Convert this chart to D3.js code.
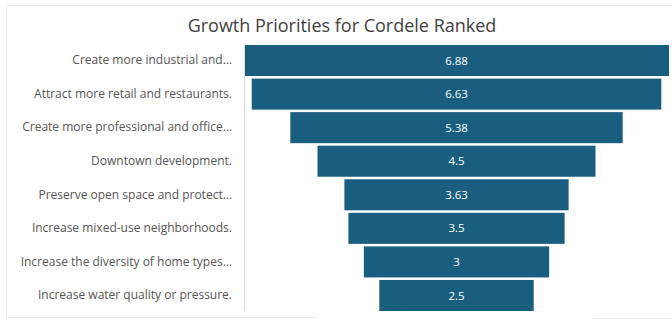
<!DOCTYPE html>
<html>
<head>
<meta charset="utf-8">
<script src="https://cdn.jsdelivr.net/npm/d3@7"></script>
<style>
  html, body { margin: 0; padding: 0; background: #ffffff; }
  svg { display: block; }
</style>
</head>
<body>
<svg id="chart" width="672" height="320"></svg>
<script>
// Growth priorities, ranked (average score)
const categories = [
  "Create more industrial and\u2026",
  "Attract more retail and restaurants.",
  "Create more professional and office\u2026",
  "Downtown development.",
  "Preserve open space and protect\u2026",
  "Increase mixed-use neighborhoods.",
  "Increase the diversity of home types\u2026",
  "Increase water quality or pressure."
];
const values = [6.88, 6.63, 5.38, 4.5, 3.63, 3.5, 3, 2.5];
const valueLabels = ["6.88", "6.63", "5.38", "4.5", "3.63", "3.5", "3", "2.5"];
const titleText = "Growth Priorities for Cordele Ranked";

const svg = d3.select("#chart");
const font = "'Open Sans', 'Noto Sans', sans-serif";

// Visual container outline
svg.append("path")
  .attr("d", "M6.5,5.5 H672 M6.5,5.5 V317.5 H318 M593,318.5 H672")
  .attr("fill", "none")
  .attr("stroke", "#ececec")
  .attr("stroke-width", 1);

// Title
svg.append("text")
  .attr("x", 342)
  .attr("y", 32)
  .attr("text-anchor", "middle")
  .attr("font-family", font)
  .attr("font-size", 18)
  .attr("fill", "#404040")
  .text(titleText);

// Layout
const axisX = 244;
const plotRight = 669;
const center = (axisX + plotRight) / 2;

const y = d3.scaleBand()
  .domain(categories)
  .range([45, 311])
  .paddingInner(0.075)
  .paddingOuter(0.0);

const w = d3.scaleLinear()
  .domain([0, d3.max(values)])
  .range([0, plotRight - axisX]);

const data = categories.map((c, i) => ({ c, v: values[i], label: valueLabels[i] }));

// Funnel bars, centred on the plot area
svg.append("g")
  .selectAll("rect")
  .data(data)
  .join("rect")
  .attr("x", d => center - w(d.v) / 2)
  .attr("y", d => y(d.c))
  .attr("width", d => w(d.v))
  .attr("height", y.bandwidth())
  .attr("fill", "#1a5e7f");

// Value labels inside bars
svg.append("g")
  .selectAll("text")
  .data(data)
  .join("text")
  .attr("x", center)
  .attr("y", d => y(d.c) + y.bandwidth() / 2)
  .attr("dy", "0.36em")
  .attr("text-anchor", "middle")
  .attr("font-family", font)
  .attr("font-size", 11.5)
  .attr("fill", "#ffffff")
  .text(d => d.label);

// Category axis
const axis = d3.axisLeft(y).tickSize(0).tickPadding(12);
const gAxis = svg.append("g")
  .attr("transform", `translate(${axisX},0)`)
  .call(axis);
gAxis.select(".domain")
  .attr("stroke", "#d9d9d9")
  .attr("d", `M0.5,${y.range()[0]}V${y.range()[1]}`);
gAxis.selectAll("text")
  .attr("font-family", font)
  .attr("font-size", 12)
  .attr("fill", "#555555");
</script>
</body>
</html>
